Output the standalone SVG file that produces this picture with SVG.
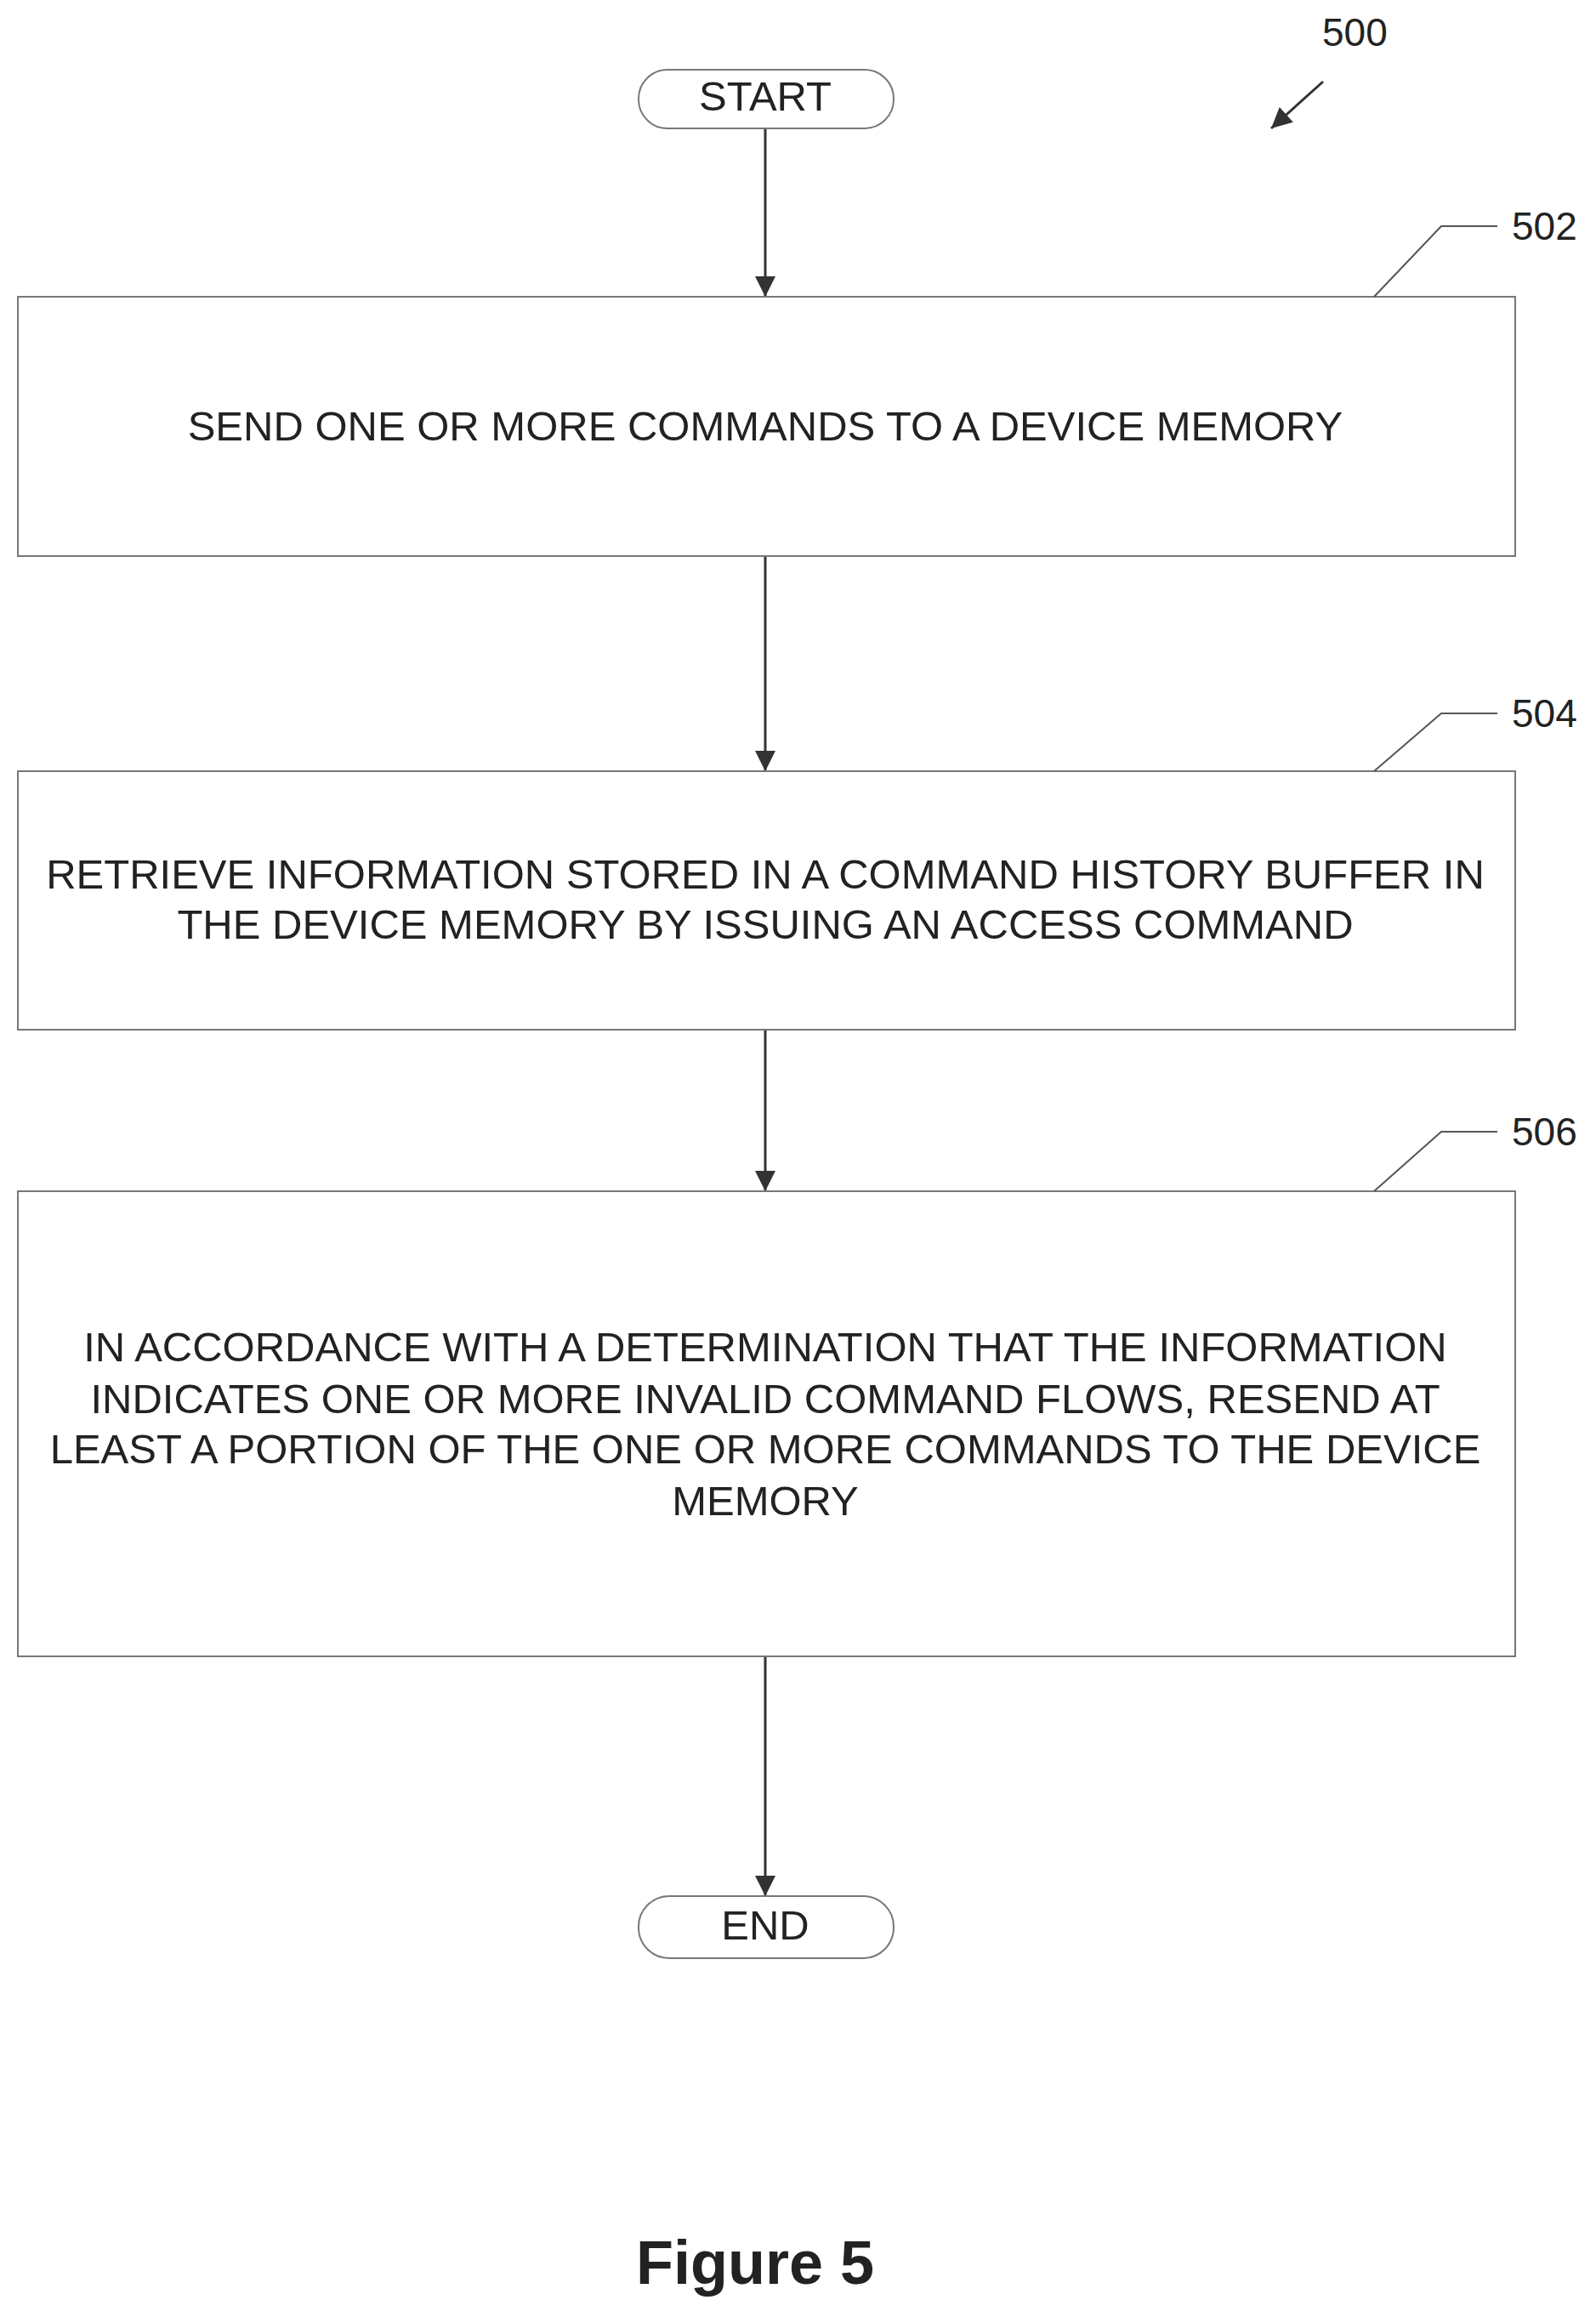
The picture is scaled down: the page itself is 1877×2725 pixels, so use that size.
<svg xmlns="http://www.w3.org/2000/svg" width="1877" height="2725" viewBox="0 0 1877 2725">
<style>
text{font-family:"Liberation Sans",Arial,sans-serif;fill:#222;text-anchor:middle}
.t{font-size:49px}
.ref{font-size:46px;text-anchor:start}
.box{fill:#fff;stroke:#777;stroke-width:2}
.ln{stroke:#333;stroke-width:3;fill:none}
.ld{stroke:#555;stroke-width:2;fill:none}
</style>
<defs>
<marker id="ah" markerWidth="12" markerHeight="12" refX="10" refY="5" orient="auto" markerUnits="userSpaceOnUse" viewBox="0 0 10 10">
<path d="M0,0 L10,5 L0,10 z" fill="#333"/>
</marker>
<marker id="ah2" viewBox="0 0 10 10" refX="10" refY="5" markerWidth="30" markerHeight="24" orient="auto" markerUnits="userSpaceOnUse">
<path d="M0,0 L10,5 L0,10 z" fill="#333"/>
</marker>
</defs>
<rect width="1877" height="2725" fill="#fff"/>
<g id="connectors">
<line class="ln" x1="900" y1="151" x2="900" y2="349" marker-end="url(#ah2)"/>
<line class="ln" x1="900" y1="654" x2="900" y2="907" marker-end="url(#ah2)"/>
<line class="ln" x1="900" y1="1211" x2="900" y2="1401" marker-end="url(#ah2)"/>
<line class="ln" x1="900" y1="1948" x2="900" y2="2230" marker-end="url(#ah2)"/>
<line class="ln" x1="1556" y1="96" x2="1495" y2="151" marker-end="url(#ah2)"/>
</g>
<g id="label500"><text class="ref" x="1555" y="54">500</text></g>
<g id="start">
<rect class="box" x="751" y="82" width="300" height="69" rx="34"/>
<text class="t" x="900" y="130">START</text>
</g>
<g id="n502">
<rect class="box" x="21" y="349" width="1761" height="305"/>
<text class="t" x="900" y="518">SEND ONE OR MORE COMMANDS TO A DEVICE MEMORY</text>
<polyline class="ld" points="1616,349 1695,266 1761,266"/>
<text class="ref" x="1778" y="282">502</text>
</g>
<g id="n504">
<rect class="box" x="21" y="907" width="1761" height="304"/>
<text class="t" x="900" y="1045">RETRIEVE INFORMATION STORED IN A COMMAND HISTORY BUFFER IN</text>
<text class="t" x="900" y="1104">THE DEVICE MEMORY BY ISSUING AN ACCESS COMMAND</text>
<polyline class="ld" points="1616,907 1695,839 1761,839"/>
<text class="ref" x="1778" y="855">504</text>
</g>
<g id="n506">
<rect class="box" x="21" y="1401" width="1761" height="547"/>
<text class="t" x="900" y="1601">IN ACCORDANCE WITH A DETERMINATION THAT THE INFORMATION</text>
<text class="t" x="900" y="1662">INDICATES ONE OR MORE INVALID COMMAND FLOWS, RESEND AT</text>
<text class="t" x="900" y="1721">LEAST A PORTION OF THE ONE OR MORE COMMANDS TO THE DEVICE</text>
<text class="t" x="900" y="1782">MEMORY</text>
<polyline class="ld" points="1616,1401 1695,1331 1761,1331"/>
<text class="ref" x="1778" y="1347">506</text>
</g>
<g id="end">
<rect class="box" x="751" y="2230" width="300" height="73" rx="36"/>
<text class="t" x="900" y="2281">END</text>
</g>
<text x="888" y="2686" style="font-size:72px;font-weight:bold">Figure 5</text>
</svg>
